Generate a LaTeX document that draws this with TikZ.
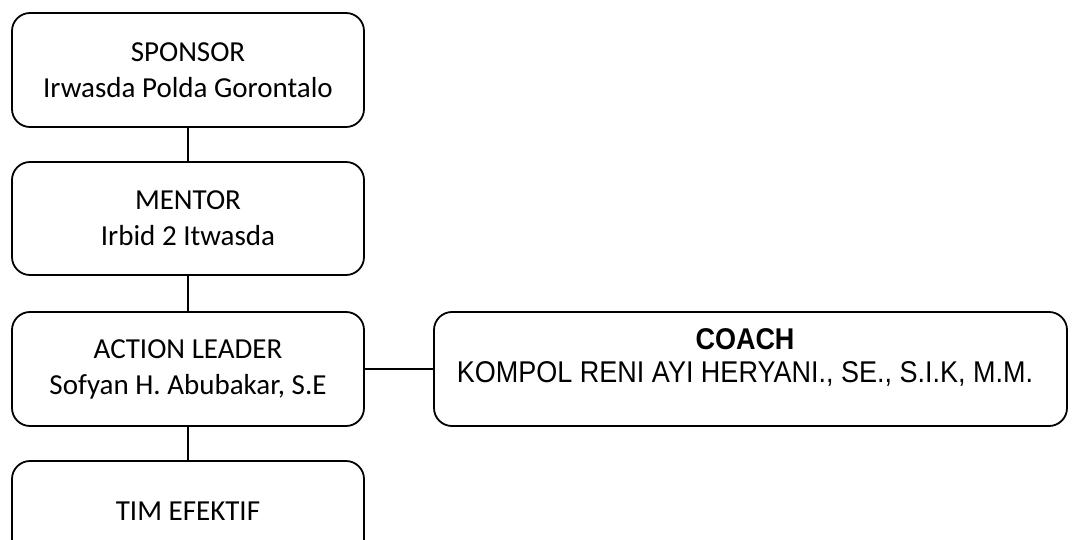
\documentclass[tikz,border=0pt]{standalone}
\usepackage{fontspec}
\setmainfont{Carlito}
\newfontfamily\arialn[FakeStretch=0.9]{Liberation Sans}
\begin{document}
\begin{tikzpicture}[x=1pt,y=-1pt,
  box/.style={draw=black, line width=1.8pt, rounded corners=18pt, fill=white,
    minimum width=352pt, minimum height=114pt, align=center, inner sep=0pt,
    font=\fontsize{29}{36}\selectfont},
  conn/.style={draw=black, line width=1.8pt}]
\useasboundingbox (0,0) rectangle (1075,540);
\clip (0,0) rectangle (1075,540);
\node[box] (sp) at (188,70) {SPONSOR\\Irwasda Polda Gorontalo};
\node[box, minimum height=113pt] (me) at (188,218.5) {MENTOR\\Irbid 2 Itwasda};
\node[box] (al) at (188,369) {ACTION LEADER\\Sofyan H. Abubakar, S.E};
\node[box, minimum height=100pt] (tim) at (188,511) {TIM EFEKTIF};
\node[box, minimum width=633pt] (co) at (750.5,369) {};
\node[align=center, inner sep=0pt, font=\arialn\fontsize{30}{33}\selectfont] (cot) at (745,357)
  {\textbf{COACH}\\KOMPOL RENI AYI HERYANI., SE., S.I.K, M.M.};
\draw[conn] (sp) -- (me);
\draw[conn] (me) -- (al);
\draw[conn] (al) -- (tim);
\draw[conn] (al) -- (co);
\end{tikzpicture}
\end{document}
